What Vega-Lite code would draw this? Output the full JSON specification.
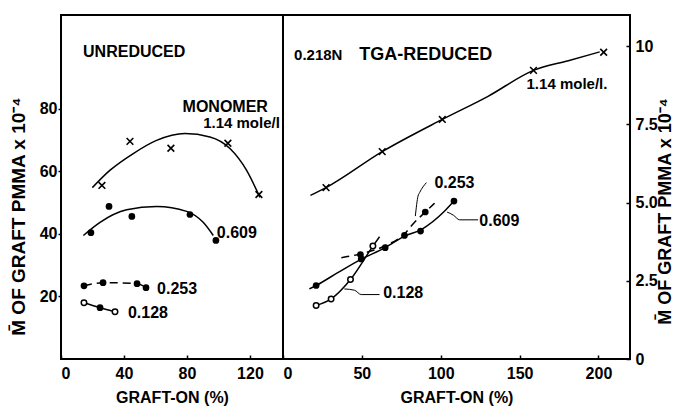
{
  "$schema": "https://vega.github.io/schema/vega-lite/v6.json",
  "background": "white",
  "padding": {"left": 8, "top": 14, "right": 0, "bottom": 0},
  "spacing": 0,
  "bounds": "flush",
  "config": {
    "view": {"stroke": "black", "strokeWidth": 2},
    "font": "Liberation Sans",
    "axis": {"grid": false, "domain": false, "labelFont": "Liberation Sans", "labelFontWeight": "bold", "labelFontSize": 16, "labelColor": "black", "titleFont": "Liberation Sans", "titleFontWeight": "bold", "titleColor": "black", "tickColor": "black", "tickWidth": 1.5},
    "text": {"font": "Liberation Sans", "fontWeight": "bold", "fontSize": 16, "color": "black"}
  },
  "datasets": {
    "Lx": [{"graft": 26, "mw": 55.5}, {"graft": 43.8, "mw": 69.6}, {"graft": 69.8, "mw": 67.4}, {"graft": 106, "mw": 69}, {"graft": 125.7, "mw": 52.6}],
    "Lf": [{"s": "0.609", "graft": 19, "mw": 40.4}, {"s": "0.609", "graft": 30.5, "mw": 48.8}, {"s": "0.609", "graft": 45, "mw": 45.6}, {"s": "0.609", "graft": 81.9, "mw": 46.2}, {"s": "0.609", "graft": 98.4, "mw": 37.9}, {"s": "0.253", "graft": 14.6, "mw": 23.4}, {"s": "0.253", "graft": 26.7, "mw": 24.4}, {"s": "0.253", "graft": 48.3, "mw": 24.1}, {"s": "0.253", "graft": 54, "mw": 22.8}, {"s": "0.128", "graft": 24.8, "mw": 16.4}],
    "Lo": [{"graft": 14.6, "mw": 18}, {"graft": 34.3, "mw": 15.1}],
    "Lc": [
      {"s": "m", "graft": 19.9, "mw": 54.8}, {"s": "m", "graft": 31, "mw": 60.3}, {"s": "m", "graft": 45.9, "mw": 65.7}, {"s": "m", "graft": 60.7, "mw": 69.9}, {"s": "m", "graft": 78.7, "mw": 72.1}, {"s": "m", "graft": 94.6, "mw": 71}, {"s": "m", "graft": 107.3, "mw": 67.3}, {"s": "m", "graft": 117.9, "mw": 60.3}, {"s": "m", "graft": 126.3, "mw": 51.7},
      {"s": "0.609", "graft": 14.2, "mw": 39.5}, {"s": "0.609", "graft": 24.8, "mw": 43.7}, {"s": "0.609", "graft": 41.7, "mw": 47.7}, {"s": "0.609", "graft": 60.8, "mw": 48.8}, {"s": "0.609", "graft": 79.8, "mw": 47.2}, {"s": "0.609", "graft": 90.3, "mw": 43.7}, {"s": "0.609", "graft": 96.7, "mw": 39.5},
      {"s": "0.128", "graft": 14.6, "mw": 18}, {"s": "0.128", "graft": 24.8, "mw": 16.4}, {"s": "0.128", "graft": 34.3, "mw": 15.1}
    ],
    "Ld": [{"graft": 14.6, "mw": 23.4}, {"graft": 26.7, "mw": 24.4}, {"graft": 48.3, "mw": 24.1}, {"graft": 54, "mw": 22.8}],
    "Ltl": [{"label": "UNREDUCED", "graft": 14, "mw": 98.2}, {"label": "0.609", "graft": 99, "mw": 40.4}, {"label": "0.253", "graft": 61, "mw": 22.5}, {"label": "0.128", "graft": 42.5, "mw": 14.8}],
    "Ltr": [{"label": "MONOMER", "graft": 131.4, "mw": 80.5}],
    "Ltr2": [{"label": "1.14 mole/l", "graft": 139, "mw": 75.4}],
    "Rx": [{"graft": 27.3, "mw": 5.48}, {"graft": 62.9, "mw": 6.63}, {"graft": 101, "mw": 7.66}, {"graft": 158.8, "mw": 9.23}, {"graft": 203.3, "mw": 9.81}],
    "Rf": [{"graft": 21, "mw": 2.35}, {"graft": 49.1, "mw": 3.34}, {"graft": 49.6, "mw": 3.2}, {"graft": 64.8, "mw": 3.56}, {"graft": 77, "mw": 3.95}, {"graft": 87.2, "mw": 4.09}, {"graft": 90.2, "mw": 4.7}, {"graft": 108.4, "mw": 5.05}],
    "Ro": [{"graft": 21, "mw": 1.71}, {"graft": 30.5, "mw": 1.92}, {"graft": 42.8, "mw": 2.54}, {"graft": 57, "mw": 3.61}],
    "Rc": [
      {"s": "m", "graft": 17.4, "mw": 5.23}, {"s": "m", "graft": 27.3, "mw": 5.48}, {"s": "m", "graft": 62.9, "mw": 6.63}, {"s": "m", "graft": 101, "mw": 7.66}, {"s": "m", "graft": 130, "mw": 8.4}, {"s": "m", "graft": 158.8, "mw": 9.23}, {"s": "m", "graft": 180.9, "mw": 9.54}, {"s": "m", "graft": 200.8, "mw": 9.82},
      {"s": "0.609", "graft": 16.7, "mw": 2.24}, {"s": "0.609", "graft": 21, "mw": 2.35}, {"s": "0.609", "graft": 34.7, "mw": 2.76}, {"s": "0.609", "graft": 49.1, "mw": 3.18}, {"s": "0.609", "graft": 64.8, "mw": 3.56}, {"s": "0.609", "graft": 77.1, "mw": 3.93}, {"s": "0.609", "graft": 87.7, "mw": 4.14}, {"s": "0.609", "graft": 102.5, "mw": 4.73}, {"s": "0.609", "graft": 108.4, "mw": 5.05},
      {"s": "0.128", "graft": 21, "mw": 1.71}, {"s": "0.128", "graft": 30.5, "mw": 1.92}, {"s": "0.128", "graft": 42.8, "mw": 2.54}, {"s": "0.128", "graft": 57, "mw": 3.61}, {"s": "0.128", "graft": 61.2, "mw": 3.91}
    ],
    "Rd": [{"graft": 37, "mw": 3.24}, {"graft": 49.1, "mw": 3.36}, {"graft": 64.8, "mw": 3.62}, {"graft": 77, "mw": 4.0}, {"graft": 83, "mw": 4.35}, {"graft": 90.2, "mw": 4.7}, {"graft": 96.1, "mw": 4.98}],
    "Rlead": [
      {"s": "a", "graft": 90.9, "mw": 5.64}, {"s": "a", "graft": 86.6, "mw": 5.32}, {"s": "a", "graft": 85.6, "mw": 5.21}, {"s": "a", "graft": 83.9, "mw": 4.57},
      {"s": "b", "graft": 123.7, "mw": 4.45}, {"s": "b", "graft": 112, "mw": 4.45}, {"s": "b", "graft": 108, "mw": 4.6}, {"s": "b", "graft": 104, "mw": 4.7},
      {"s": "c", "graft": 61.2, "mw": 2.06}, {"s": "c", "graft": 49.6, "mw": 2.06}, {"s": "c", "graft": 45.3, "mw": 2.2}, {"s": "c", "graft": 38.9, "mw": 2.24}
    ],
    "Rt": [{"label": "0.253", "graft": 96, "mw": 5.64}, {"label": "0.609", "graft": 124.5, "mw": 4.42}, {"label": "0.128", "graft": 63.5, "mw": 2.12}],
    "Rts": [{"label": "0.218N", "graft": 7, "mw": 9.71}, {"label": "1.14 mole/l.", "graft": 154.4, "mw": 8.78}],
    "Rtb": [{"label": "TGA-REDUCED", "graft": 48.3, "mw": 9.71}]
  },
  "hconcat": [
    {
      "width": 222,
      "height": 344,
      "encoding": {
        "x": {"field": "graft", "type": "quantitative", "scale": {"domain": [0, 141], "nice": false, "zero": false},
              "axis": {"values": [0, 40, 80, 120], "tickSize": -4, "labelPadding": 10, "title": "GRAFT-ON (%)", "titleFontSize": 16, "titlePadding": 8}},
        "y": {"field": "mw", "type": "quantitative", "scale": {"domain": [0, 110], "nice": false, "zero": false},
              "axis": {"values": [20, 40, 60, 80], "tickSize": 3, "labelPadding": 1, "title": "M̄ OF GRAFT PMMA x 10⁻⁴", "titleFontSize": 19, "titleAngle": 270, "titleX": -43, "titleY": 201, "titleAlign": "center", "titleBaseline": "middle"}}
      },
      "layer": [
        {"data": {"name": "Lc"}, "mark": {"type": "line", "color": "black", "strokeWidth": 1.5, "interpolate": "monotone"}, "encoding": {"detail": {"field": "s"}}},
        {"data": {"name": "Ld"}, "mark": {"type": "line", "color": "black", "strokeWidth": 1.5, "interpolate": "monotone", "strokeDash": [8, 5]}, "encoding": {}},
        {"data": {"name": "Lx"}, "mark": {"type": "point", "shape": "M -1 -1 L 1 1 M -1 1 L 1 -1", "filled": false, "stroke": "black", "strokeWidth": 1.6, "size": 45, "opacity": 1}, "encoding": {}},
        {"data": {"name": "Lf"}, "mark": {"type": "point", "shape": "circle", "filled": true, "color": "black", "size": 45, "opacity": 1}, "encoding": {}},
        {"data": {"name": "Lo"}, "mark": {"type": "point", "shape": "circle", "filled": true, "fill": "white", "stroke": "black", "strokeWidth": 1.5, "size": 30, "opacity": 1}, "encoding": {}},
        {"data": {"name": "Ltl"}, "mark": {"type": "text", "align": "left", "fontSize": 16}, "encoding": {"text": {"field": "label"}}},
        {"data": {"name": "Ltr"}, "mark": {"type": "text", "align": "right", "fontSize": 16}, "encoding": {"text": {"field": "label"}}},
        {"data": {"name": "Ltr2"}, "mark": {"type": "text", "align": "right", "fontSize": 15}, "encoding": {"text": {"field": "label"}}}
      ]
    },
    {
      "width": 347,
      "height": 344,
      "encoding": {
        "x": {"field": "graft", "type": "quantitative", "scale": {"domain": [0, 220], "nice": false, "zero": false},
              "axis": {"values": [0, 50, 100, 150, 200], "tickSize": -4, "labelPadding": 10, "title": "GRAFT-ON (%)", "titleFontSize": 16, "titlePadding": 8}},
        "y": {"field": "mw", "type": "quantitative", "scale": {"domain": [0, 11], "nice": false, "zero": false},
              "axis": {"orient": "right", "values": [0, 2.5, 5, 7.5, 10], "labelExpr": "datum.value == 0 ? '0' : datum.value == 10 ? '10' : format(datum.value, '.1f')", "tickSize": -4, "labelPadding": 9, "title": "M̄ OF GRAFT PMMA x 10⁻⁴", "titleFontSize": 18, "titleAngle": 270, "titleX": 35, "titleY": 196, "titleAlign": "center", "titleBaseline": "middle"}}
      },
      "layer": [
        {"data": {"name": "Rc"}, "mark": {"type": "line", "color": "black", "strokeWidth": 1.5, "interpolate": "monotone"}, "encoding": {"detail": {"field": "s"}}},
        {"data": {"name": "Rd"}, "mark": {"type": "line", "color": "black", "strokeWidth": 1.5, "interpolate": "monotone", "strokeDash": [8, 5]}, "encoding": {}},
        {"data": {"name": "Rlead"}, "mark": {"type": "line", "color": "black", "strokeWidth": 1, "interpolate": "monotone"}, "encoding": {"detail": {"field": "s"}}},
        {"data": {"name": "Rx"}, "mark": {"type": "point", "shape": "M -1 -1 L 1 1 M -1 1 L 1 -1", "filled": false, "stroke": "black", "strokeWidth": 1.6, "size": 45, "opacity": 1}, "encoding": {}},
        {"data": {"name": "Rf"}, "mark": {"type": "point", "shape": "circle", "filled": true, "color": "black", "size": 45, "opacity": 1}, "encoding": {}},
        {"data": {"name": "Ro"}, "mark": {"type": "point", "shape": "circle", "filled": true, "fill": "white", "stroke": "black", "strokeWidth": 1.5, "size": 30, "opacity": 1}, "encoding": {}},
        {"data": {"name": "Rt"}, "mark": {"type": "text", "align": "left", "fontSize": 16}, "encoding": {"text": {"field": "label"}}},
        {"data": {"name": "Rts"}, "mark": {"type": "text", "align": "left", "fontSize": 15}, "encoding": {"text": {"field": "label"}}},
        {"data": {"name": "Rtb"}, "mark": {"type": "text", "align": "left", "fontSize": 18}, "encoding": {"text": {"field": "label"}}}
      ]
    }
  ]
}
